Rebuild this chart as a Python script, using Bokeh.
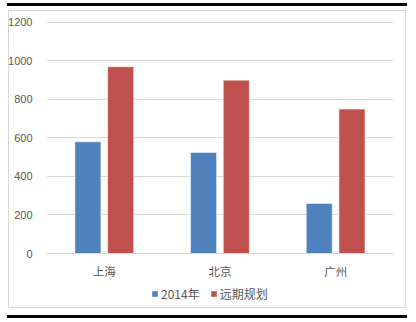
from bokeh.plotting import figure
from bokeh.layouts import column
from bokeh.models import (FactorRange, Range1d, Legend, LegendItem, ColumnDataSource)
from bokeh.transform import dodge
from bokeh.embed import file_html
from bokeh.resources import INLINE

cities = ["上海", "北京", "广州"]
series_names = ["2014年", "远期规划"]
values_2014 = [580, 525, 260]
values_plan = [970, 900, 750]
y_ticks = [0, 200, 400, 600, 800, 1000, 1200]

colors = ["#4f81bd", "#c0504d"]

source = ColumnDataSource(dict(city=cities, v2014=values_2014, vplan=values_plan))

# main chart (top 280 px of the page)
p = figure(frame_width=347, frame_height=232, x_range=FactorRange(*cities),
           y_range=Range1d(0, 1205), output_backend="svg", toolbar_location=None,
           min_border_left=46, min_border_right=23, min_border_top=21,
           min_border_bottom=27)
p.outline_line_color = None
p.background_fill_color = None
p.border_fill_color = None

p.vbar(x=dodge("city", -0.142, range=p.x_range), top="v2014", width=0.225,
       source=source, fill_color=colors[0], line_color="white", line_alpha=0.5,
       line_width=1)
p.vbar(x=dodge("city", 0.141, range=p.x_range), top="vplan", width=0.225,
       source=source, fill_color=colors[1], line_color="white", line_alpha=0.5,
       line_width=1)

p.yaxis.ticker = y_ticks
p.yaxis.axis_line_color = None
p.yaxis.major_tick_line_color = None
p.yaxis.minor_tick_line_color = None
p.yaxis.major_label_text_font = "Liberation Sans"
p.yaxis.major_label_text_font_size = "11px"
p.yaxis.major_label_text_color = "#595959"
p.yaxis.major_label_standoff = 8

p.xaxis.axis_line_color = "#d9d9d9"
p.xaxis.axis_line_width = 1
p.xaxis.major_tick_line_color = None
p.xaxis.minor_tick_line_color = None
p.xaxis.major_label_text_font = "Noto Sans CJK SC"
p.xaxis.major_label_text_font_size = "11.5px"
p.xaxis.major_label_text_color = "#595959"
p.xaxis.major_label_standoff = 3

p.xgrid.grid_line_color = None
p.ygrid.grid_line_color = "#d9d9d9"
p.ygrid.grid_line_width = 1

# legend strip (bottom 42 px of the page); same frame width/borders as the chart
lg = figure(frame_width=347, frame_height=42, x_range=Range1d(0, 1), y_range=Range1d(0, 1),
            output_backend="svg", toolbar_location=None,
            x_axis_location=None, y_axis_location=None,
            min_border_left=46, min_border_right=23, min_border_top=0,
            min_border_bottom=0)
lg.outline_line_color = None
lg.background_fill_color = None
lg.border_fill_color = None
lg.xgrid.grid_line_color = None
lg.ygrid.grid_line_color = None
# zero-height swatch renderers: they draw nothing and only feed the legend
swatch = ColumnDataSource(dict(x=[0.5], top=[0], bottom=[0]))
k1 = lg.vbar(x="x", top="top", bottom="bottom", width=0.01, source=swatch,
             fill_color=colors[0], line_color=None)
k2 = lg.vbar(x="x", top="top", bottom="bottom", width=0.01, source=swatch,
             fill_color=colors[1], line_color=None)

legend = Legend(items=[LegendItem(label=series_names[0], renderers=[k1], index=0),
                       LegendItem(label=series_names[1], renderers=[k2], index=0)],
                orientation="horizontal", location=(105, 21))
legend.glyph_width = 7
legend.glyph_height = 7
legend.label_standoff = 3
legend.spacing = 10
legend.label_text_font = "Noto Sans CJK SC"
legend.label_text_font_size = "12px"
legend.label_text_color = "#595959"
legend.label_height = 14
legend.border_line_color = None
legend.background_fill_alpha = 0
legend.padding = 0
legend.margin = 0
lg.add_layout(legend)

bg = ("linear-gradient(#000,#000) 7px 3px / 400px 3px no-repeat, "
      "linear-gradient(#000,#000) 7px 315px / 400px 3px no-repeat, "
      "linear-gradient(#d9d9d9,#d9d9d9) 8px 10px / 398px 1px no-repeat, "
      "linear-gradient(#d9d9d9,#d9d9d9) 8px 307px / 398px 1px no-repeat, "
      "linear-gradient(#d9d9d9,#d9d9d9) 8px 10px / 1px 298px no-repeat, "
      "linear-gradient(#d9d9d9,#d9d9d9) 405px 10px / 1px 298px no-repeat, "
      "#ffffff")

layout = column(p, lg, spacing=0, styles={"background": bg})

open("out.html", "w").write(file_html(layout, INLINE))
